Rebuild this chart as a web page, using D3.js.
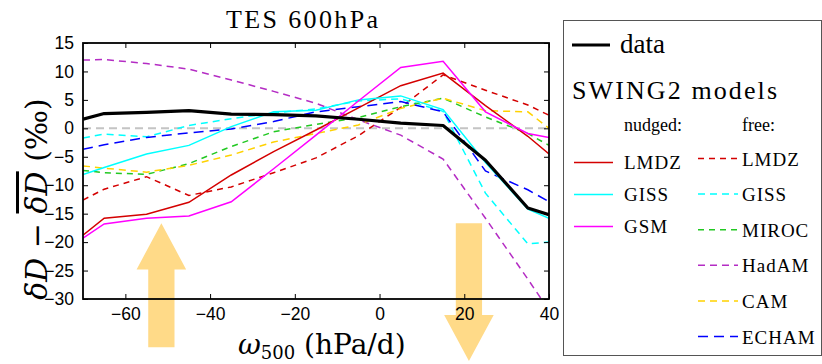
<!DOCTYPE html>
<html>
<head>
<meta charset="utf-8">
<script src="https://cdn.jsdelivr.net/npm/d3@7"></script>
<style>
  body { margin: 0; background: #fff; }
  svg { display: block; }
  .serif { font-family: "Liberation Serif", "DejaVu Serif", serif; }
  .dserif { font-family: "DejaVu Serif", serif; font-weight: normal; }
  .tick text { font-family: "Liberation Sans", Arial, sans-serif; font-size: 17.5px; fill: #000; }
</style>
</head>
<body>
<svg id="chart" width="822" height="364"></svg>
<script>
// omega bins (hPa/d), the two edge values are where the curves meet the frame
const omega = [-70, -65, -55, -45, -35, -25, -15, -5, 5, 15, 25, 35, 40];

const obs        = [1.6, 2.6, 2.8, 3.1, 2.5, 2.4, 2.2, 1.6, 0.9, 0.5, -5.6, -14.0, -15.2];
const nudgedLMDZ = [-18.8, -15.8, -15.1, -13.0, -8.2, -4.1, -0.3, 3.6, 7.5, 9.7, 4.0, -1.4, -4.5];
const nudgedGISS = [-8.1, -6.9, -4.5, -3.0, 0.3, 2.9, 3.2, 5.0, 5.7, 3.3, -6.0, -14.2, -15.8];
const nudgedGSM  = [-19.3, -16.8, -15.8, -15.4, -12.9, -7.1, -1.2, 4.8, 10.7, 11.8, 2.9, -0.9, -1.6];
const freeLMDZ   = [-12.6, -10.7, -8.5, -11.8, -10.3, -7.8, -5.2, -1.3, 3.7, 9.4, 6.7, 4.1, 2.3];
const freeGISS   = [-1.7, -1.0, -1.5, 0.5, 1.7, 2.7, 3.4, 4.8, 5.2, 3.0, -11.4, -20.3, -20.0];
const freeMIROC  = [-7.4, -7.8, -8.1, -6.2, -3.2, -0.6, 0.7, 1.9, 3.8, 5.3, 2.0, -0.9, -3.0];
const freeHadAM  = [12.0, 12.1, 11.4, 10.4, 8.5, 6.5, 4.4, 1.5, -1.2, -5.4, -15.8, -26.5, -32.0];
const freeCAM    = [-6.6, -7.0, -7.7, -6.5, -4.7, -2.4, -0.9, 0.6, 3.5, 5.3, 3.1, 2.9, 0.0];
const freeECHAM  = [-3.7, -2.9, -1.6, -0.8, -0.1, 1.2, 2.9, 3.8, 4.7, 2.9, -7.5, -10.8, -12.9];

const xTicks = [-60, -40, -20, 0, 20, 40];
const yTicks = [15, 10, 5, 0, -5, -10, -15, -20, -25, -30];

// big arrows (centre omega, start value, tip value)
const arrows = [
    { x: -51.5, from: -38.5, to: -16.7 },
    { x: 21.1, from: -16.7, to: -40.9 }
];

const nudged = [
    { name: 'LMDZ', values: nudgedLMDZ, color: '#d40000' },
    { name: 'GISS', values: nudgedGISS, color: '#00ffff' },
    { name: 'GSM', values: nudgedGSM, color: '#ff00ff' }
];
const free = [
    { name: 'LMDZ', values: freeLMDZ, color: '#d40000', dash: '6,5' },
    { name: 'GISS', values: freeGISS, color: '#00ffff', dash: '7,5' },
    { name: 'MIROC', values: freeMIROC, color: '#22c822', dash: '6,5' },
    { name: 'HadAM', values: freeHadAM, color: '#b42cc4', dash: '7,5' },
    { name: 'CAM', values: freeCAM, color: '#ffd200', dash: '7,5' },
    { name: 'ECHAM', values: freeECHAM, color: '#0000ff', dash: '10,6' }
];

const svg = d3.select('#chart');
const x = d3.scaleLinear().domain([-70, 40]).range([83, 549]);
const y = d3.scaleLinear().domain([-30, 15]).range([299, 43]);

svg.append('clipPath').attr('id', 'plot-clip')
    .append('rect')
    .attr('x', x(-70)).attr('y', y(15))
    .attr('width', x(40) - x(-70)).attr('height', y(-30) - y(15));

// arrows go under everything
const ax = 3.1, hx = 5.85, hlen = 8.1;   // half shaft, half head (omega units), head length (value units)
arrows.forEach(a => {
    const dir = a.to > a.from ? 1 : -1;
    const base = a.to - dir * hlen;
    const pts = [
        [a.x - ax, a.from], [a.x - ax, base], [a.x - hx, base], [a.x, a.to],
        [a.x + hx, base], [a.x + ax, base], [a.x + ax, a.from]
    ];
    svg.append('polygon')
        .attr('points', pts.map(p => x(p[0]) + ',' + y(p[1])).join(' '))
        .attr('fill', '#ffda88');
});

const plot = svg.append('g').attr('clip-path', 'url(#plot-clip)');

plot.append('line')
    .attr('x1', x(-70)).attr('x2', x(40))
    .attr('y1', y(0)).attr('y2', y(0))
    .attr('stroke', '#c4c4c4').attr('stroke-width', 2)
    .attr('stroke-dasharray', '8,5');

const line = d3.line().x((d, i) => x(omega[i])).y(d => y(d));

free.forEach(s => {
    plot.append('path').datum(s.values)
        .attr('d', line).attr('fill', 'none')
        .attr('stroke', s.color).attr('stroke-width', 1.5)
        .attr('stroke-dasharray', s.dash);
});
nudged.forEach(s => {
    plot.append('path').datum(s.values)
        .attr('d', line).attr('fill', 'none')
        .attr('stroke', s.color).attr('stroke-width', 1.5);
});
plot.append('path').datum(obs)
    .attr('d', line).attr('fill', 'none')
    .attr('stroke', '#000').attr('stroke-width', 3.2)
    .attr('stroke-linejoin', 'round');

// axes, ticks pointing inward on all four sides
const fmt = d => d < 0 ? '\u2212' + Math.abs(d) : d;
svg.append('g').attr('transform', `translate(0,${y(-30)})`)
    .call(d3.axisBottom(x).tickValues(xTicks).tickSize(-5).tickPadding(9).tickFormat(fmt));
svg.append('g').attr('transform', `translate(0,${y(15)})`)
    .call(d3.axisTop(x).tickValues(xTicks).tickSize(-5).tickFormat(''));
svg.append('g').attr('transform', `translate(${x(-70)},0)`)
    .call(d3.axisLeft(y).tickValues(yTicks).tickSize(-5).tickPadding(9).tickFormat(fmt));
svg.append('g').attr('transform', `translate(${x(40)},0)`)
    .call(d3.axisRight(y).tickValues(yTicks).tickSize(-5).tickFormat(''));
svg.selectAll('.domain').remove();
svg.selectAll('.tick line').attr('stroke', '#000').attr('stroke-width', 1);

svg.append('rect')
    .attr('x', x(-70)).attr('y', y(15))
    .attr('width', x(40) - x(-70)).attr('height', y(-30) - y(15))
    .attr('fill', 'none').attr('stroke', '#000').attr('stroke-width', 1.8);

// titles
svg.append('text').attr('class', 'serif')
    .attr('x', 302).attr('y', 28).attr('text-anchor', 'middle')
    .attr('font-size', 26).attr('textLength', 152)
    .text('TES 600hPa');

const xl = svg.append('text').attr('class', 'dserif')
    .attr('x', 238).attr('y', 354).attr('font-size', 28);
xl.append('tspan').attr('font-style', 'italic').text('\u03c9');
xl.append('tspan').attr('font-size', 18).attr('dy', 5).text('500');
xl.append('tspan').attr('dy', -5).text(' (hPa/d)');

const yl = svg.append('text').attr('class', 'dserif')
    .attr('transform', 'translate(47,199) rotate(-90)')
    .attr('text-anchor', 'middle').attr('font-size', 30);
yl.append('tspan').attr('font-style', 'italic').text('\u03b4D');
yl.append('tspan').text(' \u2212 ');
yl.append('tspan').attr('font-style', 'italic').attr('text-decoration', 'overline').text('\u03b4D');
yl.append('tspan').text(' (\u2030)');

// legend
const lg = svg.append('g').attr('class', 'serif');
lg.append('rect')
    .attr('x', 563.5).attr('y', 20.5).attr('width', 258).attr('height', 335)
    .attr('fill', '#fff').attr('stroke', '#555').attr('stroke-width', 1);
lg.append('line').attr('x1', 572).attr('x2', 610).attr('y1', 45).attr('y2', 45)
    .attr('stroke', '#000').attr('stroke-width', 3.2);
lg.append('text').attr('x', 620).attr('y', 53).attr('font-size', 27).text('data');
lg.append('text').attr('x', 572).attr('y', 99).attr('font-size', 26)
    .attr('textLength', 205).text('SWING2 models');
lg.append('text').attr('x', 624).attr('y', 131).attr('font-size', 18).text('nudged:');
lg.append('text').attr('x', 742).attr('y', 131).attr('font-size', 18).text('free:');

nudged.forEach((s, i) => {
    const yy = 162.5 + i * 32;
    lg.append('line').attr('x1', 574).attr('x2', 613).attr('y1', yy).attr('y2', yy)
        .attr('stroke', s.color).attr('stroke-width', 1.5);
    lg.append('text').attr('x', 624).attr('y', yy + 6).attr('font-size', 19)
        .attr('letter-spacing', 1).text(s.name);
});
free.forEach((s, i) => {
    const yy = 158.5 + i * 35.6;
    lg.append('line').attr('x1', 698).attr('x2', 738).attr('y1', yy).attr('y2', yy)
        .attr('stroke', s.color).attr('stroke-width', 1.5)
        .attr('stroke-dasharray', s.dash);
    lg.append('text').attr('x', 742).attr('y', yy + 7).attr('font-size', 19)
        .attr('letter-spacing', 1).text(s.name);
});
</script>
</body>
</html>
